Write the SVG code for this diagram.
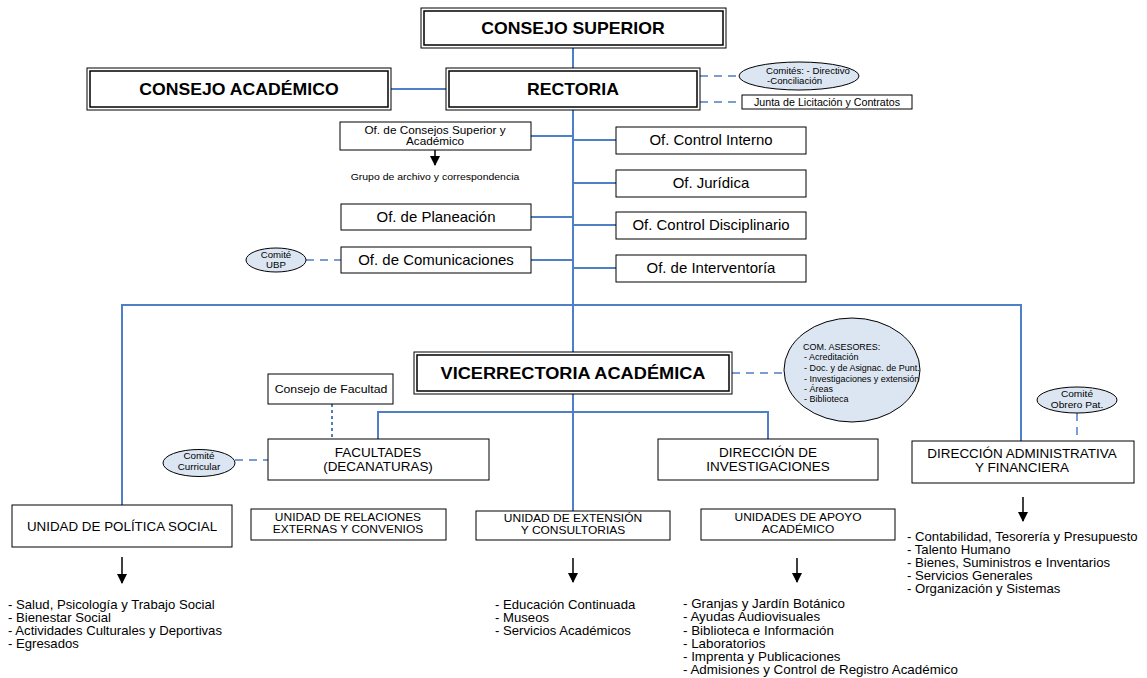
<svg xmlns="http://www.w3.org/2000/svg" width="1147" height="678" viewBox="0 0 1147 678">
<defs>
<style>
text{font-family:"Liberation Sans",Arial,sans-serif;fill:#000;transform-box:fill-box;transform-origin:50% 50%;transform:scaleX(1.07)}
.l text,text.l{transform-origin:0 50%}
.b{font-weight:bold}
.box{fill:#fff;stroke:#000;stroke-width:1}
.in{fill:none;stroke:#000;stroke-width:1.5}
.ell{fill:#dce6f2;stroke:#000;stroke-width:1}
.c{fill:none;stroke:#4f7fc6;stroke-width:2}
.d{fill:none;stroke:#4f7fc6;stroke-width:1.5;stroke-dasharray:8,6}
.dot{fill:none;stroke:#4f7fc6;stroke-width:2;stroke-dasharray:3,3}
.ar{fill:none;stroke:#000;stroke-width:1.5}
.m{text-anchor:middle}
</style>
<marker id="ahb" viewBox="0 0 10 10" refX="9" refY="5" markerWidth="10" markerHeight="10" markerUnits="userSpaceOnUse" orient="auto"><path d="M0,0L10,5L0,10z" fill="#000"/></marker>
</defs>
<rect width="1147" height="678" fill="#fff"/>

<g id="connectors">
<path class="c" d="M573,48V68"/>
<path class="c" d="M391,89H446"/>
<path class="d" d="M700,76H740"/>
<path class="d" d="M700,102H742"/>
<path class="c" d="M573,110V305" stroke-width="2.5"/>
<path class="c" d="M573,305V352" stroke-width="1.5"/>
<path class="c" d="M531,136H573M531,217H573M531,260H573"/>
<path class="c" d="M573,140H616M573,183H616M573,225H616M573,268H616"/>
<path class="d" d="M306,260H341"/>
<path class="c" d="M122,505V305H1021V441"/>
<path class="d" d="M732,373H786"/>
<path class="c" d="M573,394V511"/>
<path class="c" d="M378,439V412H768V439"/>
<path class="dot" d="M332,404V439"/>
<path class="d" d="M235,460H268"/>
<path class="d" d="M1077,413V441"/>
<path class="ar" d="M435,150V165" marker-end="url(#ahb)"/>
<path class="ar" d="M122,557V583" marker-end="url(#ahb)"/>
<path class="ar" d="M573,558V582" marker-end="url(#ahb)"/>
<path class="ar" d="M797,558V582" marker-end="url(#ahb)"/>
<path class="ar" d="M1023,497V521" marker-end="url(#ahb)"/>
</g>

<g id="consejo-superior">
<rect class="box" x="421" y="8" width="305" height="40"/>
<rect class="in" x="424" y="11" width="299" height="34"/>
<text class="b m" x="573" y="34" font-size="16.5">CONSEJO SUPERIOR</text>
</g>
<g id="consejo-academico">
<rect class="box" x="87" y="68" width="304" height="42"/>
<rect class="in" x="90" y="71" width="298" height="36"/>
<text class="b m" x="239" y="95" font-size="16.5">CONSEJO ACADÉMICO</text>
</g>
<g id="rectoria">
<rect class="box" x="446" y="68" width="254" height="42"/>
<rect class="in" x="449" y="71" width="248" height="36"/>
<text class="b m" x="573" y="95" font-size="16.5">RECTORIA</text>
</g>
<g id="comites" class="l">
<ellipse class="ell" cx="799" cy="76" rx="60" ry="14"/>
<text x="766" y="74" font-size="9">Comités: - Directivo</text>
<text x="767" y="84" font-size="9">-Conciliación</text>
</g>
<g id="junta">
<rect class="box" x="742" y="95" width="170" height="14"/>
<text class="m" x="827" y="106" font-size="10">Junta de Licitación y Contratos</text>
</g>

<g id="of-consejos">
<rect class="box" x="340" y="122" width="191" height="28"/>
<text class="m" x="435" y="134" font-size="11">Of. de Consejos Superior y</text>
<text class="m" x="435" y="145" font-size="11">Académico</text>
</g>
<g id="grupo-archivo">
<text class="m" x="435" y="180" font-size="9.8">Grupo de archivo y correspondencia</text>
</g>
<g id="of-planeacion">
<rect class="box" x="341" y="204" width="190" height="26"/>
<text class="m" x="436" y="222" font-size="14">Of. de Planeación</text>
</g>
<g id="of-comunicaciones">
<rect class="box" x="341" y="247" width="190" height="26"/>
<text class="m" x="436" y="265" font-size="14">Of. de Comunicaciones</text>
</g>
<g id="comite-ubp">
<ellipse class="ell" cx="276" cy="260" rx="30" ry="12"/>
<text class="m" x="276" y="258" font-size="9">Comité</text>
<text class="m" x="276" y="268" font-size="9">UBP</text>
</g>
<g id="of-control-interno">
<rect class="box" x="616" y="127" width="190" height="27"/>
<text class="m" x="711" y="145" font-size="14">Of. Control Interno</text>
</g>
<g id="of-juridica">
<rect class="box" x="616" y="170" width="190" height="27"/>
<text class="m" x="711" y="188" font-size="14">Of. Jurídica</text>
</g>
<g id="of-control-disciplinario">
<rect class="box" x="616" y="212" width="190" height="27"/>
<text class="m" x="711" y="230" font-size="14">Of. Control Disciplinario</text>
</g>
<g id="of-interventoria">
<rect class="box" x="616" y="255" width="190" height="27"/>
<text class="m" x="711" y="273" font-size="14">Of. de Interventoría</text>
</g>

<g id="vicerrectoria">
<rect class="box" x="414" y="352" width="318" height="42"/>
<rect class="in" x="417" y="355" width="312" height="36"/>
<text class="b m" x="573" y="379" font-size="17">VICERRECTORIA ACADÉMICA</text>
</g>
<g id="com-asesores" class="l">
<ellipse class="ell" cx="852" cy="370" rx="68" ry="52"/>
<text x="803" y="350" font-size="8.4">COM. ASESORES:</text>
<text x="804" y="360" font-size="8.4">- Acreditación</text>
<text x="804" y="371" font-size="8.4">- Doc. y de Asignac. de Punt.</text>
<text x="804" y="382" font-size="8.4">- Investigaciones y extensión</text>
<text x="804" y="392" font-size="8.4">- Áreas</text>
<text x="804" y="402" font-size="8.4">- Biblioteca</text>
</g>

<g id="consejo-facultad">
<rect class="box" x="268" y="374" width="125" height="30"/>
<text class="m" x="331" y="393" font-size="11.5">Consejo de Facultad</text>
</g>
<g id="facultades">
<rect class="box" x="268" y="439" width="221" height="41"/>
<text class="m" x="378" y="457" font-size="12.6">FACULTADES</text>
<text class="m" x="378" y="471" font-size="12.6">(DECANATURAS)</text>
</g>
<g id="comite-curricular">
<ellipse class="ell" cx="199" cy="463" rx="36" ry="13.5"/>
<text class="m" x="199" y="459" font-size="9.2">Comité</text>
<text class="m" x="199" y="470" font-size="9.2">Curricular</text>
</g>
<g id="direccion-investigaciones">
<rect class="box" x="658" y="439" width="220" height="41"/>
<text class="m" x="768" y="457" font-size="12.6">DIRECCIÓN DE</text>
<text class="m" x="768" y="471" font-size="12.6">INVESTIGACIONES</text>
</g>
<g id="direccion-administrativa">
<rect class="box" x="912" y="441" width="222" height="42"/>
<text class="m" x="1022" y="458" font-size="12.6">DIRECCIÓN ADMINISTRATIVA</text>
<text class="m" x="1022" y="472" font-size="12.6">Y FINANCIERA</text>
</g>
<g id="comite-obrero">
<ellipse class="ell" cx="1077" cy="400" rx="40" ry="13"/>
<text class="m" x="1077" y="397" font-size="9.5">Comité</text>
<text class="m" x="1077" y="408" font-size="9.5">Obrero Pat.</text>
</g>

<g id="unidad-politica-social">
<rect class="box" x="12" y="505" width="220" height="42"/>
<text class="m" x="122" y="531" font-size="12.5">UNIDAD DE POLÍTICA SOCIAL</text>
</g>
<g id="unidad-relaciones">
<rect class="box" x="251" y="509" width="195" height="31"/>
<text class="m" x="348" y="521" font-size="11.2">UNIDAD DE RELACIONES</text>
<text class="m" x="348" y="533" font-size="11.2">EXTERNAS Y CONVENIOS</text>
</g>
<g id="unidad-extension">
<rect class="box" x="476" y="511" width="194" height="29"/>
<text class="m" x="573" y="522" font-size="11.2">UNIDAD DE EXTENSIÓN</text>
<text class="m" x="573" y="534" font-size="11.2">Y CONSULTORIAS</text>
</g>
<g id="unidades-apoyo">
<rect class="box" x="701" y="509" width="194" height="31"/>
<text class="m" x="798" y="521" font-size="11.2">UNIDADES DE APOYO</text>
<text class="m" x="798" y="533" font-size="11.2">ACADÉMICO</text>
</g>

<g id="lista-politica" class="l" font-size="12.3">
<text x="8" y="609">- Salud, Psicología y Trabajo Social</text>
<text x="8" y="622">- Bienestar Social</text>
<text x="8" y="635">- Actividades Culturales y Deportivas</text>
<text x="8" y="648">- Egresados</text>
</g>
<g id="lista-extension" class="l" font-size="12.3">
<text x="495" y="609">- Educación Continuada</text>
<text x="495" y="622">- Museos</text>
<text x="495" y="635">- Servicios Académicos</text>
</g>
<g id="lista-apoyo" class="l" font-size="12.5">
<text x="683" y="608">- Granjas y Jardín Botánico</text>
<text x="683" y="621">- Ayudas Audiovisuales</text>
<text x="683" y="635">- Biblioteca e Información</text>
<text x="683" y="648">- Laboratorios</text>
<text x="683" y="661">- Imprenta y Publicaciones</text>
<text x="683" y="674">- Admisiones y Control de Registro Académico</text>
</g>
<g id="lista-administrativa" class="l" font-size="12.3">
<text x="907" y="541">- Contabilidad, Tesorería y Presupuesto</text>
<text x="907" y="554">- Talento Humano</text>
<text x="907" y="567">- Bienes, Suministros e Inventarios</text>
<text x="907" y="580">- Servicios Generales</text>
<text x="907" y="593">- Organización y Sistemas</text>
</g>
</svg>
